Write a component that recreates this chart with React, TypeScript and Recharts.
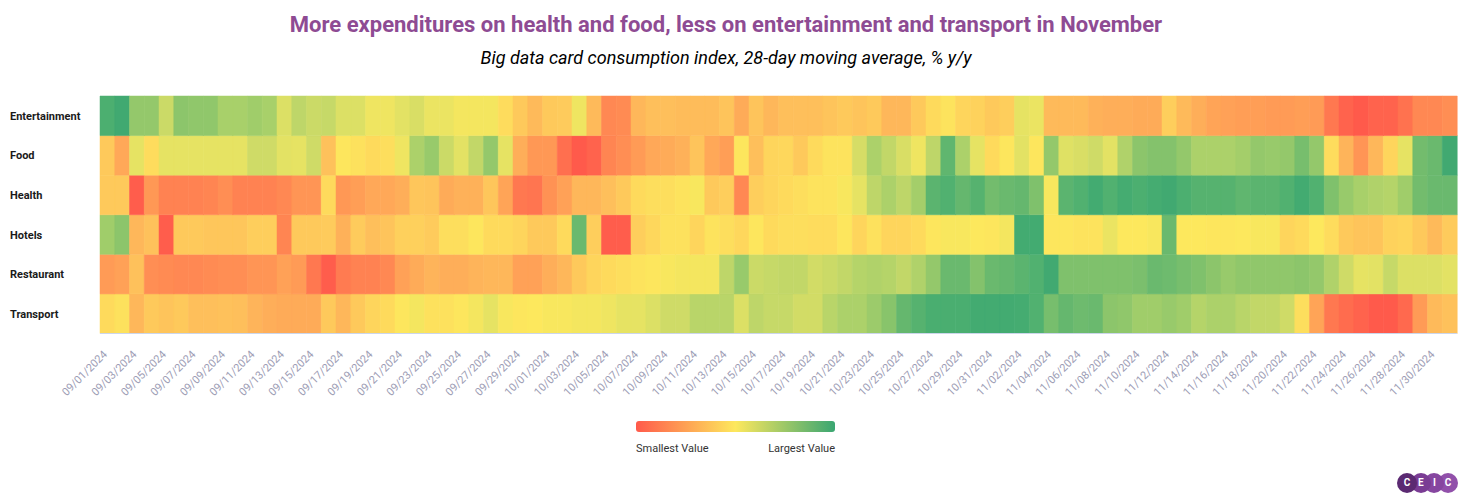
import React from 'react';
import { BarChart, Bar, XAxis, YAxis, Cell } from 'recharts';

// ---- categories ----
const MONTH_LENGTHS: [string, number][] = [['09', 30], ['10', 31], ['11', 30], ['12', 1]];
const dates: string[] = [];
for (const [m, n] of MONTH_LENGTHS) {
  for (let d = 1; d <= n; d++) dates.push(`${m}/${String(d).padStart(2, '0')}/2024`);
}

const rowNames = ['Entertainment', 'Food', 'Health', 'Hotels', 'Restaurant', 'Transport'];

// ---- series values (relative index: 0 = smallest, 100 = largest) ----
const entertainment = [
  92, 97, 76, 76, 63, 78, 77, 77, 71, 71, 73, 71, 58, 66, 63,
  64, 58, 58, 53, 53, 56, 59, 54, 54, 52, 52, 52, 45, 37, 31, 37,
  38, 53, 31, 15, 16, 30, 33, 33, 32, 32, 32, 35, 26, 35, 30,
  33, 33, 33, 35, 37, 35, 37, 30, 30, 37, 44, 48, 42, 41, 37, 39,
  55, 54, 31, 31, 31, 28, 27, 27, 26, 26, 39, 31, 27, 24, 23,
  22, 22, 21, 21, 22, 21, 10, 3, 0, 3, 3, 8, 15, 15, 17,
];
const food = [
  37, 25, 55, 45, 55, 55, 55, 55, 55, 55, 62, 62, 56, 55, 62,
  34, 49, 47, 44, 46, 53, 70, 75, 63, 56, 65, 76, 55, 27, 20, 20,
  7, 0, 3, 14, 17, 21, 25, 26, 28, 35, 25, 22, 49, 33, 42,
  43, 37, 44, 48, 48, 60, 70, 65, 59, 53, 66, 88, 70, 55, 44, 49,
  56, 49, 76, 57, 59, 62, 56, 69, 78, 80, 80, 76, 70, 70, 70,
  72, 76, 75, 76, 83, 76, 45, 29, 19, 30, 42, 55, 84, 86, 97,
];
const health = [
  37, 37, 1, 20, 13, 13, 13, 14, 17, 13, 13, 13, 15, 19, 19,
  44, 20, 22, 25, 25, 27, 36, 35, 26, 28, 28, 36, 24, 10, 9, 18,
  23, 30, 30, 33, 37, 44, 46, 46, 48, 51, 37, 39, 15, 39, 42,
  44, 46, 48, 48, 51, 55, 66, 70, 66, 72, 89, 91, 87, 90, 84, 86,
  87, 81, 51, 89, 91, 96, 91, 95, 92, 95, 97, 92, 90, 90, 90,
  88, 89, 89, 91, 96, 91, 81, 75, 71, 69, 68, 73, 84, 86, 86,
];
const hotels = [
  73, 78, 30, 34, 1, 37, 37, 36, 36, 36, 39, 39, 14, 37, 37,
  38, 28, 38, 33, 35, 40, 40, 38, 46, 46, 49, 44, 44, 42, 37, 37,
  44, 86, 39, 1, 1, 39, 43, 47, 47, 42, 48, 46, 43, 49, 44,
  46, 46, 45, 45, 49, 42, 47, 42, 42, 44, 49, 51, 51, 50, 49, 52,
  96, 96, 49, 49, 48, 48, 54, 50, 50, 51, 86, 50, 50, 49, 49,
  50, 51, 51, 42, 44, 50, 45, 37, 35, 35, 41, 42, 37, 31, 38,
];
const restaurant = [
  21, 23, 34, 17, 16, 15, 15, 16, 17, 17, 19, 19, 23, 21, 10,
  1, 11, 13, 13, 15, 23, 26, 29, 27, 27, 29, 30, 30, 23, 23, 27,
  30, 37, 42, 44, 46, 48, 49, 51, 52, 52, 52, 66, 75, 63, 64,
  65, 65, 61, 63, 65, 68, 69, 68, 65, 69, 76, 86, 86, 80, 86, 87,
  89, 91, 97, 81, 81, 81, 81, 81, 82, 86, 85, 83, 81, 78, 75,
  77, 77, 77, 77, 78, 76, 69, 62, 55, 56, 64, 58, 58, 58, 56,
];
const transport = [
  44, 47, 30, 37, 35, 37, 33, 33, 34, 33, 29, 27, 26, 26, 26,
  37, 30, 37, 42, 44, 49, 52, 47, 47, 49, 52, 55, 51, 49, 50, 51,
  51, 52, 52, 53, 55, 55, 58, 62, 62, 67, 67, 67, 58, 66, 64,
  64, 61, 61, 67, 70, 70, 74, 79, 87, 90, 93, 93, 93, 96, 96, 96,
  95, 91, 83, 87, 85, 86, 78, 77, 73, 73, 75, 73, 68, 70, 70,
  67, 65, 65, 62, 46, 24, 10, 6, 3, 0, 0, 5, 21, 31, 34,
];

const seriesByRow: Record<string, number[]> = {
  Entertainment: entertainment,
  Food: food,
  Health: health,
  Hotels: hotels,
  Restaurant: restaurant,
  Transport: transport,
};

// ---- colour scale ----
const STOPS: [number, string][] = [
  [0, '#ff5a4b'], [10, '#ff7850'], [20, '#ff9855'], [30, '#feb75a'], [40, '#fed05c'],
  [50, '#fde85d'], [55, '#e6e363'], [62, '#cfdb67'], [70, '#acd16a'], [78, '#8cc56b'],
  [86, '#6ab96e'], [92, '#4caf70'], [100, '#3aa672'],
];
const hex = (h: string) => [1, 3, 5].map((i) => parseInt(h.slice(i, i + 2), 16));
function colorFor(v: number): string {
  for (let i = 0; i < STOPS.length - 1; i++) {
    const [a, ca] = STOPS[i];
    const [b, cb] = STOPS[i + 1];
    if (v <= b) {
      const t = (v - a) / (b - a);
      const A = hex(ca), B = hex(cb);
      const c = A.map((x, k) => Math.round(x + (B[k] - x) * t));
      return `rgb(${c[0]},${c[1]},${c[2]})`;
    }
  }
  return STOPS[STOPS.length - 1][1];
}

const data = dates.map((date) => {
  const o: Record<string, any> = { date };
  rowNames.forEach((r) => (o[r] = 1));
  return o;
});

const stackOrder = [...rowNames].reverse(); // bottom to top

const XTick = (props: any) => {
  const { x, y, payload } = props;
  const ax = x + 0.5;
  const ay = y + 13.5;
  return (
    <text
      x={ax}
      y={ay}
      transform={`rotate(-45 ${ax} ${ay})`}
      textAnchor="end"
      fill="#9d9db5"
      fontSize={11}
      fontFamily="Roboto"
    >
      {payload.value}
    </text>
  );
};

const YTick = (props: any) => {
  const { y, payload } = props;
  const idx = 5 - Math.floor(payload.value);
  return (
    <text x={2} y={y} dy={4} textAnchor="start" fill="#1a1a1a" fontSize={11} fontWeight={700} fontFamily="Roboto">
      {rowNames[idx]}
    </text>
  );
};

const logoColors = ['#5b2a72', '#7a3c94', '#8646a0', '#9150aa'];
const logoLetters = ['C', 'E', 'I', 'C'];

export default function App() {
  return (
    <div style={{ position: 'relative', width: 1451, height: 486, fontFamily: 'Roboto', background: '#fff' }}>
      <div
        style={{
          position: 'absolute', left: 0, top: 3, width: 1436, textAlign: 'center',
          color: '#8e4b93', fontSize: 22, fontWeight: 700, lineHeight: '27px',
        }}
      >
        More expenditures on health and food, less on entertainment and transport in November
      </div>
      <div
        style={{
          position: 'absolute', left: 0, top: 38, width: 1436, textAlign: 'center',
          color: '#000', fontSize: 18, fontStyle: 'italic', lineHeight: '23px',
        }}
      >
        Big data card consumption index, 28-day moving average, % y/y
      </div>
      <div style={{ position: 'absolute', left: 0, top: 0 }}>
        <BarChart
          width={1451}
          height={430}
          data={data}
          margin={{ top: 88, right: 2, left: 0, bottom: 0 }}
          barCategoryGap={0}
          barGap={0}
        >
          <XAxis
            dataKey="date"
            interval={1}
            tickLine={false}
            axisLine={{ stroke: '#ccd6eb' }}
            height={104.5}
            tick={<XTick />}
          />
          <YAxis
            type="number"
            domain={[0, 6]}
            ticks={[0.5, 1.5, 2.5, 3.5, 4.5, 5.5]}
            width={92}
            axisLine={false}
            tickLine={false}
            tick={<YTick />}
          />
          {stackOrder.map((r) => (
            <Bar key={r} dataKey={r} stackId="a" isAnimationActive={false}>
              {seriesByRow[r].map((v, i) => {
                const c = colorFor(v);
                return <Cell key={i} fill={c} stroke={c} strokeWidth={0.5} />;
              })}
            </Bar>
          ))}
        </BarChart>
      </div>
      <div
        style={{
          position: 'absolute', left: 628, top: 413, width: 199, height: 11, borderRadius: 3,
          background: 'linear-gradient(to right, #ff5a4b, #fde85d, #3aa672)',
        }}
      />
      <div style={{ position: 'absolute', left: 628, top: 434, fontSize: 11, color: '#333' }}>Smallest Value</div>
      <div style={{ position: 'absolute', left: 727, width: 100, textAlign: 'right', top: 434, fontSize: 11, color: '#333' }}>
        Largest Value
      </div>
      {logoLetters.map((l, i) => (
        <div
          key={i}
          style={{
            position: 'absolute', left: 1389 + i * 13.7, top: 465, width: 20, height: 20, borderRadius: 10,
            background: logoColors[i], color: '#fff', fontSize: 10, fontWeight: 700, lineHeight: '20px',
            textAlign: 'center', zIndex: 4 - i,
          }}
        >
          {l}
        </div>
      ))}
    </div>
  );
}
